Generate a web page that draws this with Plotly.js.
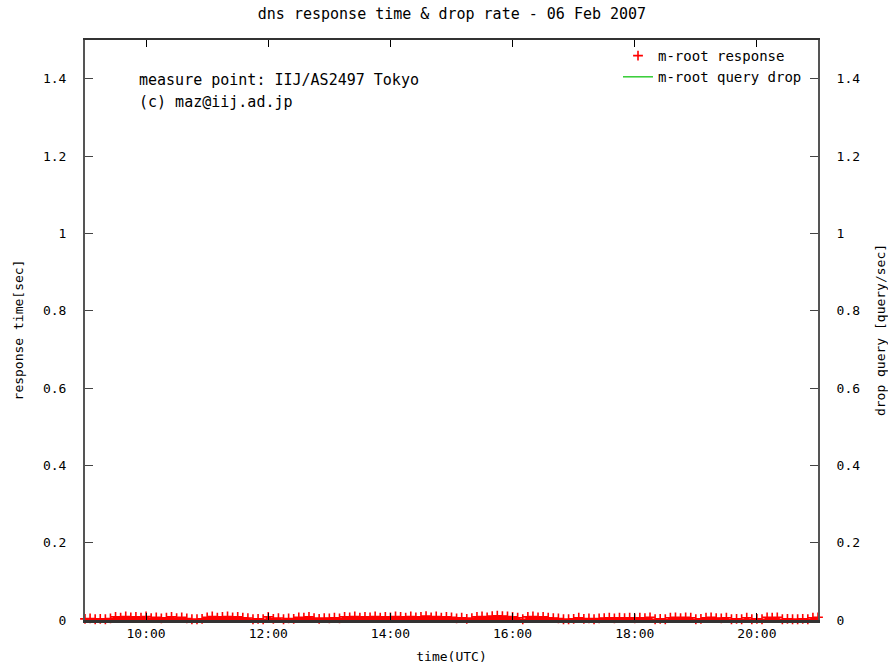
<!DOCTYPE html>
<html>
<head>
<meta charset="utf-8">
<script src="https://cdn.plot.ly/plotly-3.0.1.min.js"></script>
<style>html,body{margin:0;padding:0;background:#fff}#chart{width:888px;height:666px}</style>
</head>
<body>
<div id="chart"></div>
<script>
// response samples every 5 minutes from 09:00 to 21:00 UTC, 06 Feb 2007
const startTime = "2007-02-06 09:00";
const stepMinutes = 5;
const responseSec = [
  0.003, 0.004, 0.002, 0.003, 0.002, 0.004,
  0.008, 0.006, 0.009, 0.007, 0.008, 0.006, 0.009,
  0.005, 0.007, 0.004, 0.006, 0.008, 0.005, 0.007, 0.004,
  0.002, 0.002, 0.003,
  0.007, 0.009, 0.006, 0.008, 0.009, 0.007, 0.008, 0.006, 0.005,
  0.002, 0.003, 0.002,
  0.008,
  0.003, 0.005, 0.002, 0.004, 0.003,
  0.007, 0.006, 0.008, 0.005,
  0.003, 0.005, 0.004, 0.006, 0.004,
  0.008, 0.007, 0.009, 0.006, 0.008, 0.007, 0.009, 0.006, 0.008, 0.007, 0.009,
  0.008, 0.006, 0.009, 0.007, 0.008, 0.010, 0.007, 0.009, 0.006, 0.008, 0.007,
  0.004, 0.006, 0.003, 0.005,
  0.008, 0.009, 0.007, 0.010, 0.011, 0.010, 0.009, 0.008, 0.006,
  0.002,
  0.008, 0.009, 0.007, 0.008, 0.006,
  0.005, 0.004,
  0.002, 0.002, 0.003,
  0.006,
  0.003, 0.004, 0.002, 0.004,
  0.005, 0.006, 0.004, 0.006, 0.005, 0.006, 0.004,
  0.006, 0.005, 0.007,
  0.002, 0.003, 0.002,
  0.006, 0.007, 0.005, 0.007, 0.006,
  0.002, 0.003,
  0.006, 0.007, 0.005, 0.004, 0.006,
  0.002, 0.003, 0.002,
  0.006,
  0.002, 0.003, 0.002,
  0.007, 0.006, 0.007,
  0.002, 0.003, 0.002, 0.002, 0.003, 0.002,
  0.006, 0.007
];
// query drop (query/sec), hourly
const dropTimes = ["2007-02-06 09:00","2007-02-06 10:00","2007-02-06 11:00","2007-02-06 12:00",
  "2007-02-06 13:00","2007-02-06 14:00","2007-02-06 15:00","2007-02-06 16:00","2007-02-06 17:00",
  "2007-02-06 18:00","2007-02-06 19:00","2007-02-06 20:00","2007-02-06 21:00"];
const dropRate = [0,0,0,0,0,0,0,0,0,0,0,0,0];
const xTickVals = ["2007-02-06 10:00","2007-02-06 12:00","2007-02-06 14:00","2007-02-06 16:00","2007-02-06 18:00","2007-02-06 20:00"];
const xTickText = ["10:00","12:00","14:00","16:00","18:00","20:00"];
const yTickVals = [0,0.2,0.4,0.6,0.8,1,1.2,1.4];
const yTickText = ["0","0.2","0.4","0.6","0.8","1","1.2","1.4"];

function pad(n){return (n<10?"0":"")+n;}
const t0 = new Date(startTime.replace(" ","T")+":00Z").getTime();
const responseTimes = responseSec.map((_, i) => {
  const d = new Date(t0 + i*stepMinutes*60000);
  return d.getUTCFullYear()+"-"+pad(d.getUTCMonth()+1)+"-"+pad(d.getUTCDate())+" "+pad(d.getUTCHours())+":"+pad(d.getUTCMinutes());
});

const FONT = "DejaVu Sans Mono, monospace";
const data = [
  {
    x: dropTimes, y: dropRate, type: "scatter", mode: "lines",
    name: "m-root query drop", line: {color: "#33cc33", width: 1.5},
    legendrank: 2, cliponaxis: false
  },
  {
    x: responseTimes, y: responseSec, type: "scatter", mode: "lines",
    line: {color: "#ff0000", width: 0, shape: "hvh"}, fill: "tozeroy", fillcolor: "#ff0000",
    showlegend: false, hoverinfo: "skip"
  },
  {
    x: responseTimes, y: responseSec, type: "scatter", mode: "markers",
    name: "m-root response",
    marker: {symbol: "cross-thin", size: 7, line: {color: "#ff0000", width: 1.6}, color: "#ff0000"},
    legendrank: 1, cliponaxis: false
  },
  {
    x: [responseTimes[0]], y: [0], yaxis: "y2", type: "scatter", mode: "markers",
    marker: {opacity: 0}, showlegend: false, hoverinfo: "skip"
  }
];

const layout = {
  width: 888, height: 666,
  margin: {l: 85, r: 70, t: 40, b: 46},
  paper_bgcolor: "#ffffff", plot_bgcolor: "#ffffff",
  font: {family: FONT, size: 13, color: "#000"},
  title: {text: "dns response time & drop rate - 06 Feb 2007", x: 0.509, xanchor: "center", y: 0.979, yanchor: "middle",
          font: {family: FONT, size: 15, color: "#000"}},
  showlegend: true,
  legend: {x: 0.985, xanchor: "right", y: 1.0, yanchor: "top", bgcolor: "rgba(0,0,0,0)",
           font: {family: FONT, size: 14}, tracegroupgap: 0, itemwidth: 30},
  xaxis: {
    type: "date", range: ["2007-02-06 09:00", "2007-02-06 21:00"],
    tickmode: "array", tickvals: xTickVals, ticktext: xTickText,
    ticks: "inside", ticklen: 7, tickcolor: "#000", tickwidth: 1,
    showline: true, linecolor: "#333", linewidth: 2.5, mirror: "ticks",
    showgrid: false, zeroline: false, layer: "above traces",
    tickfont: {family: FONT, size: 13},
    title: {text: "time(UTC)", font: {family: FONT, size: 13}, standoff: 12}
  },
  yaxis: {
    range: [0, 1.5], tickmode: "array", tickvals: yTickVals, ticktext: yTickText,
    ticks: "inside", ticklen: 8, tickcolor: "#444", tickwidth: 1,
    showline: true, linecolor: "#555", linewidth: 2,
    showgrid: false, zeroline: false, ticklabelstandoff: 14,
    tickfont: {family: FONT, size: 13},
    title: {text: "response time[sec]", font: {family: FONT, size: 13}, standoff: 16}
  },
  yaxis2: {
    overlaying: "y", side: "right",
    range: [0, 1.5], tickmode: "array", tickvals: yTickVals, ticktext: yTickText,
    ticks: "inside", ticklen: 8, tickcolor: "#444", tickwidth: 1,
    showline: true, linecolor: "#555", linewidth: 2,
    showgrid: false, zeroline: false, ticklabelstandoff: 14,
    tickfont: {family: FONT, size: 13},
    title: {text: "drop query [query/sec]", font: {family: FONT, size: 13}, standoff: 20}
  },
  annotations: [
    {xref: "paper", yref: "paper", x: 0.071, y: 0.931, xanchor: "left", yanchor: "middle",
     text: "measure point: IIJ/AS2497 Tokyo", showarrow: false, font: {family: FONT, size: 15}},
    {xref: "paper", yref: "paper", x: 0.071, y: 0.893, xanchor: "left", yanchor: "middle",
     text: "(c) maz@iij.ad.jp", showarrow: false, font: {family: FONT, size: 15}}
  ]
};

Plotly.newPlot("chart", data, layout, {displayModeBar: false, staticPlot: true});
</script>
</body>
</html>
